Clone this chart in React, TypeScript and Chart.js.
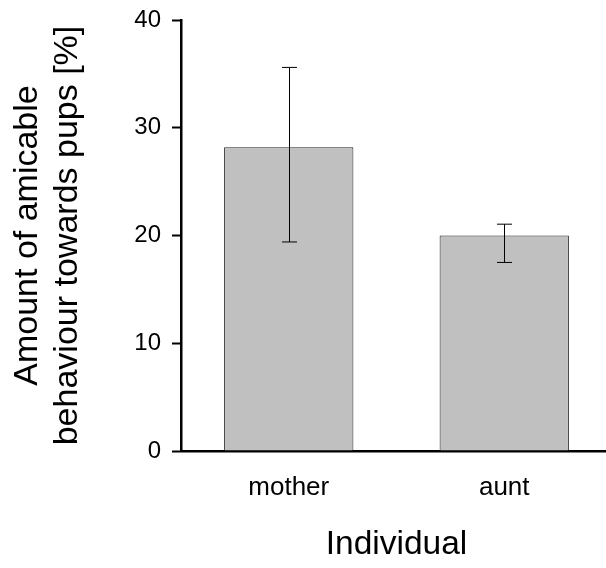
import React, { useEffect, useRef } from "react";
import { Chart, registerables } from "chart.js";

Chart.register(...registerables);

const categories = ["mother", "aunt"];
const means = [28.2, 20.0];
const errLow = [19.4, 17.5];
const errHigh = [35.6, 21.05];
const yTicks = [0, 10, 20, 30, 40];
const yTitle = ["Amount of amicable", "behaviour towards pups [%]"];
const xTitle = "Individual";

const FONT = "'Liberation Sans', Arial, sans-serif";

const errorBarPlugin = {
  id: "errorBars",
  afterDatasetsDraw(chart: any) {
    const ctx = chart.ctx;
    const meta = chart.getDatasetMeta(0);
    const yScale = chart.scales.y;
    ctx.save();
    ctx.strokeStyle = "#000";
    ctx.lineWidth = 1;
    meta.data.forEach((bar: any, i: number) => {
      const x = Math.round(bar.x) + 0.5;
      const yHi = yScale.getPixelForValue(errHigh[i]);
      const yLo = yScale.getPixelForValue(errLow[i]);
      const hw = 7.5;
      ctx.beginPath();
      ctx.moveTo(x, yHi);
      ctx.lineTo(x, yLo);
      ctx.moveTo(x - hw, yHi);
      ctx.lineTo(x + hw, yHi);
      ctx.moveTo(x - hw, yLo);
      ctx.lineTo(x + hw, yLo);
      ctx.stroke();
    });
    ctx.restore();
  },
};

export default function App() {
  const ref = useRef<HTMLCanvasElement>(null);

  useEffect(() => {
    if (!ref.current) return;
    const chart = new Chart(ref.current, {
      type: "bar",
      data: {
        labels: categories,
        datasets: [
          {
            data: means,
            backgroundColor: "#C0C0C0",
            borderColor: "#222",
            borderWidth: 1,
            barPercentage: 0.6,
            categoryPercentage: 1,
          },
        ],
      },
      options: {
        responsive: false,
        animation: false,
        devicePixelRatio: 1,
        layout: { padding: { top: 20, left: 0, right: 0, bottom: 0 } },
        plugins: {
          legend: { display: false },
          tooltip: { enabled: false },
        },
        scales: {
          x: {
            afterFit: (scale: any) => {
              scale.height = 117;
              scale.paddingLeft = 0;
              scale.paddingRight = 0;
            },
            grid: { display: false, drawTicks: false, tickLength: 0 },
            border: { display: true, color: "#000", width: 2.5 },
            ticks: {
              color: "#000",
              padding: 21,
              font: { family: FONT, size: 26 },
            },
            title: {
              display: true,
              text: xTitle,
              color: "#000",
              font: { family: FONT, size: 33.5 },
              padding: { top: 21, bottom: 3.5 },
            },
          },
          y: {
            min: 0,
            max: 40,
            afterFit: (scale: any) => {
              scale.width = 181;
              scale.paddingTop = 0;
              scale.paddingBottom = 0;
            },
            afterBuildTicks: (scale: any) => {
              scale.ticks = yTicks.map((v) => ({ value: v }));
            },
            grid: {
              display: true,
              drawOnChartArea: false,
              drawTicks: true,
              tickLength: 9,
              tickWidth: 2,
              tickColor: "#000",
            },
            border: { display: true, color: "#000", width: 2.5 },
            ticks: {
              color: "#000",
              padding: 11,
              font: { family: FONT, size: 24 },
            },
            title: {
              display: true,
              text: yTitle,
              color: "#000",
              font: { family: FONT, size: 34, lineHeight: 1.15 },
              padding: { top: 8.5, bottom: 47 },
            },
          },
        },
      },
      plugins: [errorBarPlugin],
    });
    return () => chart.destroy();
  }, []);

  return (
    <div style={{ position: "fixed", left: 0, top: 0, width: 612, height: 568, background: "#fff" }}>
      <canvas ref={ref} width={612} height={568} style={{ display: "block" }} />
    </div>
  );
}
